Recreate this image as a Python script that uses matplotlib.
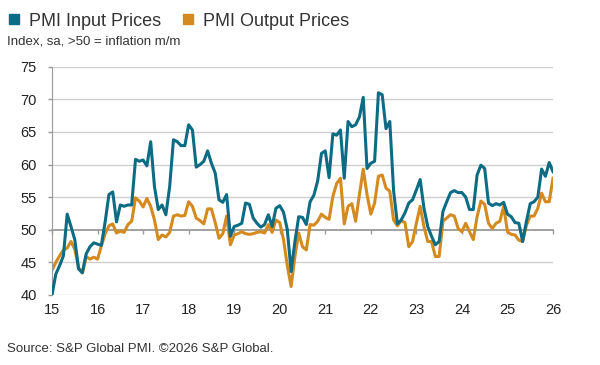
import numpy as np
import matplotlib
matplotlib.use("Agg")
import matplotlib.pyplot as plt
from matplotlib.lines import Line2D

# monthly index values, Jan 2015 - Jan 2026
input_prices = [
    40.0, 43.2, 44.5, 46.0, 52.4, 50.5, 48.5, 44.0, 43.4, 46.3, 47.4, 48.0,
    47.8, 47.6, 51.2, 55.4, 55.8, 51.2, 53.8, 53.6, 53.8, 53.8, 60.8, 60.5,
    60.7, 59.8, 63.5, 56.6, 53.1, 53.8, 52.3, 56.6, 63.8, 63.5, 62.9, 62.9,
    66.1, 65.3, 59.6, 60.0, 60.5, 62.1, 60.2, 58.7, 54.6, 54.2, 55.4, 49.0,
    50.5, 50.7, 51.0, 54.1, 53.9, 51.8, 51.0, 50.4, 50.8, 52.3, 50.5, 53.3,
    53.7, 52.7, 50.0, 43.6, 48.2, 52.0, 51.9, 50.8, 54.3, 55.3, 57.5, 61.7,
    62.1, 58.0, 64.7, 64.5, 65.3, 57.9, 66.6, 65.8, 66.1, 67.3, 70.3, 59.4,
    60.2, 60.5, 71.0, 70.7, 65.5, 66.6, 56.0, 50.9, 51.5, 52.6, 54.1, 54.6,
    56.1, 57.7, 53.3, 50.5, 49.0, 47.7, 48.2, 52.8, 54.3, 55.7, 56.0, 55.7,
    55.7, 55.0, 53.1, 53.1, 58.4, 59.9, 59.4, 54.1, 53.7, 54.0, 53.8, 54.2,
    52.4, 52.0, 51.1, 51.0, 48.2, 51.3, 54.0, 54.3, 55.0, 59.3, 58.2, 60.3,
    58.9,
]
output_prices = [
    43.8, 45.0, 46.0, 46.9, 47.2, 48.2, 47.0, 44.2, 43.4, 45.9, 45.5, 45.8,
    45.5, 47.5, 49.4, 50.6, 50.9, 49.5, 49.8, 49.6, 50.8, 51.3, 54.9, 54.4,
    53.5, 54.8, 53.6, 51.5, 48.5, 49.2, 48.9, 49.6, 52.1, 52.3, 52.1, 52.2,
    54.3, 53.6, 51.8, 51.4, 50.9, 53.2, 53.2, 51.1, 48.7, 49.4, 52.1, 47.7,
    49.2, 49.4, 49.7, 49.4, 49.3, 49.4, 49.6, 49.7, 49.5, 50.8, 49.6, 51.5,
    51.1, 48.5, 44.5, 41.3, 45.9, 49.5, 47.4, 46.9, 50.8, 50.7, 51.3, 52.4,
    51.9, 51.6, 55.1, 57.1, 57.9, 50.9, 53.6, 54.0, 51.3, 55.4, 59.3, 55.4,
    52.4, 54.1, 58.2, 58.4, 56.4, 55.9, 51.5, 50.6, 51.4, 51.1, 47.4, 48.2,
    51.0, 53.6, 50.5, 48.2, 48.2, 45.9, 45.9, 51.3, 51.8, 52.3, 52.1, 50.2,
    49.7, 51.0, 49.7, 48.5, 52.0, 54.4, 53.9, 51.0, 50.2, 51.0, 51.3, 53.6,
    49.7, 49.3, 49.2, 48.4, 48.2, 50.7, 52.1, 52.1, 53.3, 55.6, 54.3, 54.3,
    57.9,
]
years = list(range(2015, 2027))
year_labels = [str(y)[2:] for y in years]
y_ticks = [40, 45, 50, 55, 60, 65, 70, 75]

BLUE = '#0C6C84'
ORANGE = '#D48A1E'
GRID = '#CFCFCF'

plt.rcParams['font.family'] = ['Liberation Sans', 'DejaVu Sans']

x = 2015 + np.arange(len(input_prices)) / 12

fig = plt.figure(figsize=(6, 3.65), dpi=100)
ax = fig.add_axes([52 / 600, 1 - 295 / 365, 501 / 600, (295 - 66.7) / 365])

for v in y_ticks:
    if v != 50:
        ax.axhline(v, color=GRID, lw=1.0, zorder=0)

ax.plot(x, input_prices, color=BLUE, lw=2.2, zorder=3, solid_joinstyle='round')
ax.plot(x, output_prices, color=ORANGE, lw=2.2, zorder=2, solid_joinstyle='round')

ax.set_xlim(2015, 2026)
ax.set_ylim(40, 75)
ax.set_yticks(y_ticks)
ax.tick_params(axis='y', length=3, width=1, color='#999999', pad=8, labelsize=10.5,
               labelcolor='#222222')

# x axis sits at 50
ax.spines['bottom'].set_position(('data', 50))
ax.spines['bottom'].set_color('#9A9A9A')
ax.spines['bottom'].set_linewidth(1.3)
ax.spines['bottom'].set_zorder(1)
ax.set_xticks(years)
ax.set_xticklabels([])
ax.tick_params(axis='x', length=3, width=1, color='#9A9A9A')
for yr, lab in zip(years, year_labels):
    ax.text(yr, -0.065, lab, transform=ax.get_xaxis_transform(), ha='center',
            va='center', fontsize=10.5, color='#222222')

ax.spines['left'].set_color('#9A9A9A')
ax.spines['right'].set_visible(False)
ax.spines['top'].set_visible(False)

# header legend
handles = [Line2D([], [], marker='s', ls='', color=BLUE, markersize=7),
           Line2D([], [], marker='s', ls='', color=ORANGE, markersize=7)]
fig.legend(handles, ['PMI Input Prices', 'PMI Output Prices'], loc='center left',
           bbox_to_anchor=(0.0, 1 - 21 / 365), ncol=2, frameon=False, fontsize=13,
           handletextpad=0.3, columnspacing=1.0, handlelength=1.0, borderaxespad=0,
           borderpad=0.3, labelcolor='#333333')
fig.text(7 / 600, 1 - 41 / 365, 'Index, sa, >50 = inflation m/m', fontsize=9.5,
         color='#333333', va='center')
fig.text(7 / 600, 1 - 349 / 365, 'Source: S&P Global PMI. \u00a92026 S&P Global.',
         fontsize=9.5, color='#333333', va='center')

fig.savefig('out.png', dpi=100)
